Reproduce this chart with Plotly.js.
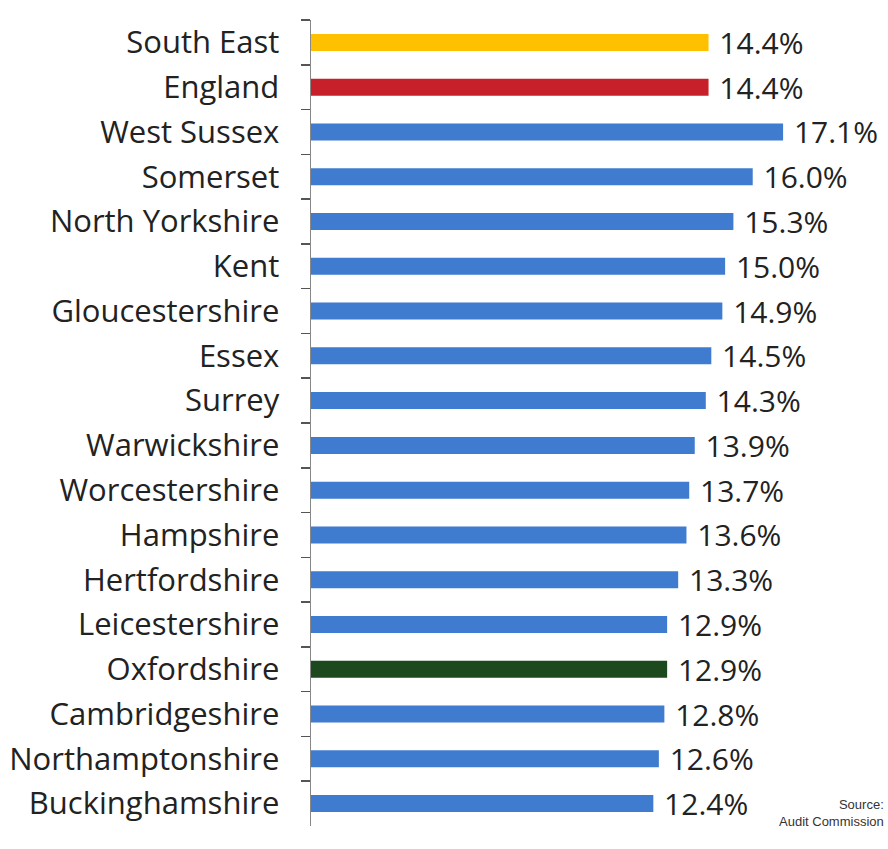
<!DOCTYPE html>
<html>
<head>
<meta charset="utf-8">
<script src="https://cdn.plot.ly/plotly-3.0.1.min.js"></script>
<style>html,body{margin:0;padding:0;background:#fff;}#chart{width:888px;height:849px;}</style>
</head>
<body>
<div id="chart"></div>
<script>
const categories = ["South East","England","West Sussex","Somerset","North Yorkshire","Kent","Gloucestershire","Essex","Surrey","Warwickshire","Worcestershire","Hampshire","Hertfordshire","Leicestershire","Oxfordshire","Cambridgeshire","Northamptonshire","Buckinghamshire"];
const values = [14.4,14.4,17.1,16.0,15.3,15.0,14.9,14.5,14.3,13.9,13.7,13.6,13.3,12.9,12.9,12.8,12.6,12.4];
const barColors = ["#FFC000","#C8202A","#3F7BCF","#3F7BCF","#3F7BCF","#3F7BCF","#3F7BCF","#3F7BCF","#3F7BCF","#3F7BCF","#3F7BCF","#3F7BCF","#3F7BCF","#3F7BCF","#1C4A1E","#3F7BCF","#3F7BCF","#3F7BCF"];
const valueLabels = values.map(v => " " + v.toFixed(1) + "%");

const trace = {
  type: "bar",
  orientation: "h",
  y: categories,
  x: values,
  marker: {color: barColors, line: {width: 0}},
  width: 0.38,
  text: valueLabels,
  textposition: "outside",
  constraintext: "none",
  cliponaxis: false,
  textfont: {family: "Open Sans, sans-serif", size: 30, color: "#222"},
  hoverinfo: "none"
};

const layout = {
  width: 888, height: 849,
  margin: {l: 311, r: 0, t: 20, b: 23},
  paper_bgcolor: "#fff", plot_bgcolor: "#fff",
  showlegend: false,
  xaxis: {range: [0, 20.9], visible: false, fixedrange: true},
  yaxis: {
    type: "category",
    autorange: "reversed",
    showline: true, linecolor: "#888", linewidth: 1.5,
    ticks: "outside", ticklen: 9, tickcolor: "#555", tickwidth: 1.5,
    tickson: "boundaries",
    ticklabelstandoff: 24,
    tickfont: {family: "Open Sans, sans-serif", size: 31, color: "#222"},
    showgrid: false, zeroline: false
  },
  annotations: [{
    xref: "paper", yref: "paper",
    x: 1, y: 0,
    xanchor: "right", yanchor: "top",
    xshift: -2, yshift: 31,
    text: "Source:<br>Audit Commission",
    showarrow: false,
    align: "right",
    font: {family: "Liberation Sans, Arial, sans-serif", size: 13, color: "#333"}
  }]
};

Plotly.newPlot("chart", [trace], layout, {displayModeBar: false, staticPlot: true});
</script>
</body>
</html>
